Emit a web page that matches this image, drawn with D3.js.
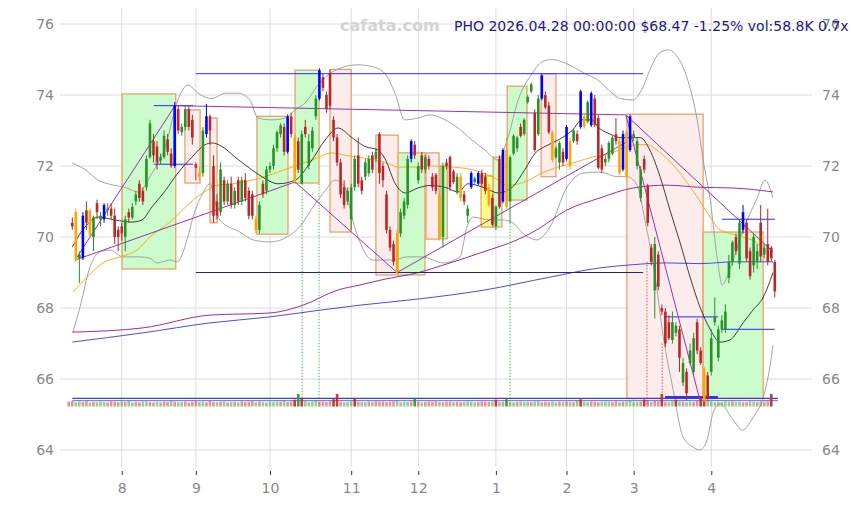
<!DOCTYPE html>
<html><head><meta charset="utf-8">
<script src="https://cdn.jsdelivr.net/npm/d3@7"></script>
<style>body{margin:0;background:#fff}svg{display:block}</style>
</head><body><svg id="c" width="853" height="505"></svg>
<script>
// ---------- DATA ----------
const title = "PHO 2026.04.28 00:00:00 $68.47 -1.25% vol:58.8K 0.7x";
const watermark = "cafata.com";
const yTicks = [64,66,68,70,72,74,76];
const monthIdx = [14,35,56,79,98,120,140,159,181];
const monthLabels = ["8","9","10","11","12","1","2","3","4"];

const opens = [70.4,70.7,69.4,69.4,70.75,70.75,70.0,70.95,70.5,70.5,
70.75,70.8,70.6,70.2,70.3,70.0,70.7,70.55,71.0,71.5,
71.3,71.4,72.25,72.7,72.55,72.15,72.25,72.75,72.35,72.0,
73.6,72.95,73.1,73.6,73.3,72.05,71.8,71.8,72.9,73.4,
72.0,71.0,70.7,71.6,71.0,71.5,70.9,71.6,71.0,71.6,
71.3,71.2,70.5,70.2,71.5,71.3,71.9,72.0,72.5,72.9,
73.1,72.4,73.4,72.8,72.7,71.5,73.1,72.0,72.5,73.4,
73.9,74.5,74.0,74.6,73.3,72.8,72.1,71.4,71.0,70.5,
71.4,72.3,71.6,71.7,71.8,72.3,72.2,72.9,72.0,71.2,
70.2,69.8,70.1,70.1,70.6,70.9,72.2,72.6,71.6,72.3,
71.9,72.2,71.7,71.75,71.2,70.0,72.1,72.25,71.85,71.25,
71.7,71.2,70.6,71.4,71.55,71.5,71.8,71.7,71.4,71.1,
70.3,72.2,71.0,72.45,71.0,72.35,72.5,73.1,72.9,73.8,
74.1,73.5,72.9,73.9,74.0,73.7,72.95,72.25,72.1,72.4,
72.2,72.7,72.7,72.9,73.1,73.4,73.25,73.15,73.9,73.35,
72.5,72.1,72.2,72.35,72.9,72.7,71.9,72.95,72.45,72.8,
72.0,71.1,72.2,71.45,69.7,68.5,69.5,68.0,67.9,67.6,
67.1,67.3,67.4,65.9,66.2,66.45,66.2,67.6,66.8,66.3,
66.1,66.2,67.6,66.6,67.4,67.4,68.85,69.3,70.0,69.25,
70.2,70.4,69.6,69.2,69.3,70.4,69.5,69.8,69.7,69.3];
const highs = [70.55,70.8,69.6,70.7,71.0,70.8,70.6,71.05,70.7,70.95,
70.95,70.95,70.8,70.3,70.4,70.6,70.8,70.95,71.3,71.6,
71.4,72.3,73.3,72.9,72.7,72.35,73.0,72.9,72.5,73.8,
73.7,73.2,73.7,73.7,73.45,72.1,72.0,73.1,73.75,73.45,
72.3,71.2,72.1,71.7,71.6,71.7,71.4,71.7,71.7,71.8,
71.4,71.3,70.6,71.0,71.6,72.0,72.1,72.6,73.0,73.2,
73.2,73.45,73.5,72.9,72.8,73.0,73.3,72.9,73.1,74.0,
74.75,74.6,74.1,74.72,73.4,72.9,72.2,71.6,71.4,71.5,
72.3,72.8,71.7,72.2,72.3,72.4,72.5,72.95,72.1,71.3,
70.3,69.9,70.2,70.8,71.1,72.3,72.75,72.7,72.1,72.4,
72.3,72.3,71.8,71.8,71.3,72.1,72.2,72.3,71.9,71.8,
71.8,71.3,70.9,71.85,71.7,71.85,71.9,71.8,71.5,71.2,
70.9,72.3,72.5,72.8,72.3,72.9,72.85,73.2,73.35,74.0,
74.35,73.6,74.0,74.6,74.1,73.8,73.0,72.55,72.7,72.5,
73.15,72.8,73.05,73.0,74.15,73.5,73.85,74.1,74.0,73.45,
72.6,72.3,72.7,72.85,73.35,72.8,73.0,73.0,73.45,73.0,
72.8,72.0,72.3,71.5,69.8,70.0,69.6,68.1,68.0,67.8,
67.9,67.6,67.5,66.6,66.3,67.0,67.3,67.7,66.9,66.35,
66.2,67.4,68.3,67.5,67.8,68.1,69.5,69.9,70.1,70.5,
70.9,70.5,69.7,70.1,69.8,70.9,69.8,70.8,69.75,69.35];
const lows = [70.2,69.3,68.7,69.35,70.2,70.0,69.6,70.5,70.3,70.4,
70.6,70.5,69.8,69.6,69.9,69.6,70.4,70.5,70.9,71.0,
70.9,71.3,72.2,72.1,71.9,72.05,72.2,72.3,71.95,71.95,
72.9,72.85,73.0,73.0,72.6,71.6,71.6,71.7,72.8,72.6,
70.4,70.5,70.6,70.9,70.9,70.8,70.8,70.9,70.9,71.0,
70.5,70.5,70.1,70.1,71.1,71.2,71.8,71.9,72.4,72.8,
72.3,72.35,72.8,71.5,71.8,71.5,72.8,71.9,72.4,73.3,
73.85,74.1,73.5,73.6,72.7,72.0,71.1,70.8,70.9,70.2,
71.3,71.4,71.2,71.6,71.7,71.8,72.1,71.5,71.4,70.1,
69.6,69.2,68.95,70.0,70.5,70.8,72.1,72.2,71.5,71.8,
71.8,71.9,71.3,71.2,69.9,69.7,71.9,71.3,71.5,71.2,
71.0,70.9,70.4,71.35,71.5,71.45,71.4,71.2,70.85,70.3,
70.2,70.8,70.95,70.8,70.4,72.3,72.4,72.8,72.85,73.75,
74.05,72.4,72.85,73.85,73.6,72.9,72.1,72.2,71.9,72.0,
72.15,71.9,72.65,72.6,73.05,73.05,73.2,73.1,73.1,71.9,
71.8,72.0,72.1,72.3,72.6,71.75,71.85,71.6,72.4,72.7,
71.9,71.0,71.8,70.3,69.2,67.7,68.5,67.8,66.9,67.1,
67.0,67.2,66.2,65.8,65.4,66.4,66.1,66.7,66.4,65.35,
65.4,66.1,67.5,66.5,67.3,67.3,68.7,69.2,69.5,69.1,
70.1,69.3,68.8,69.0,69.1,69.3,69.4,69.2,69.3,68.3];
const closes = [70.3,69.35,69.5,70.6,70.4,70.05,70.55,70.7,70.6,70.9,
70.8,70.6,70.0,70.0,70.1,70.5,70.55,70.85,71.2,71.1,
71.0,72.2,73.2,72.3,72.1,72.25,72.85,72.4,72.0,73.7,
73.0,73.1,73.6,73.1,72.8,71.95,71.7,73.0,73.4,73.0,
70.6,70.6,71.9,71.0,71.5,70.9,71.3,71.0,71.6,71.1,
70.6,70.6,70.2,70.9,71.2,71.9,72.0,72.5,72.95,73.15,
72.4,73.4,72.9,71.55,71.9,72.9,72.9,72.7,73.0,73.9,
74.7,74.2,73.6,73.7,72.8,72.1,71.2,70.9,71.3,71.4,
72.2,71.5,71.3,72.1,72.2,71.9,72.4,71.8,71.6,70.2,
69.7,69.3,69.0,70.7,71.0,72.2,72.7,72.3,72.0,71.9,
72.25,72.0,71.4,71.3,69.95,72.0,72.0,71.4,71.55,71.7,
71.1,71.0,70.8,71.8,71.65,71.8,71.5,71.3,70.9,70.35,
70.85,70.85,72.45,70.85,72.25,72.85,72.8,72.85,73.3,73.95,
74.3,72.45,73.9,74.55,73.65,72.95,72.17,72.5,72.65,72.1,
73.1,72.0,73.0,72.7,74.1,73.1,73.8,74.05,73.15,71.95,
71.9,72.2,72.65,72.8,72.7,71.8,72.9,71.7,73.4,72.9,
72.7,71.9,71.9,70.4,69.3,69.8,68.6,67.9,67.0,67.15,
67.6,67.5,66.6,66.45,65.6,66.8,67.15,66.8,66.45,65.4,
65.45,67.15,67.75,67.4,67.65,67.9,69.3,69.85,69.6,70.4,
70.7,69.4,68.9,70.0,69.6,69.45,69.7,69.3,69.4,68.47];
const volumes = [21,24,19,22,20,23,18,21,19,22,
20,18,23,21,19,22,20,24,18,21,
19,22,23,20,18,21,19,22,20,26,
21,19,20,22,18,21,23,20,22,19,
24,20,19,21,22,18,20,21,19,22,
20,21,23,19,22,20,18,21,20,22,
21,25,20,22,30,55,34,24,20,22,
26,21,22,20,23,32,55,21,19,20,
22,33,21,20,19,22,20,23,21,22,
20,21,22,24,19,21,20,22,33,21,
19,20,22,21,23,20,19,21,22,20,
21,19,20,22,21,19,20,22,21,20,
22,30,20,21,32,20,19,21,22,20,
21,20,22,23,19,21,20,22,19,21,
20,22,21,19,25,32,21,20,22,21,
19,20,22,21,20,23,19,21,22,24,
21,20,22,31,26,20,24,22,55,21,
20,23,30,22,21,19,22,20,24,38,
50,26,22,19,21,20,23,21,22,20,
21,19,20,22,21,20,22,21,23,55];
const blueBars = [3,9,29,38,61,70,96,113,115,122,133,140,144,147,156,158,190];
const orangeBars = [1,5,36,52,63,92,104,110,118,123,136,141,145,155,157,179];

// indicator lines: [bar index, price]
const maShort = [[0,69.72],[3.6,70.28],[7.3,70.56],[12.1,70.48],[16.9,70.42],[19.7,70.48],[22.6,70.85],[26.3,71.3],[29.9,71.8],[33.9,72.25],[37.6,72.6],[39.6,72.65],[42.4,72.55],[46.1,72.25],[49.8,71.97],[53.7,71.7],[58.3,71.5],[63.1,71.6],[67.9,72.17],[71.6,72.73],[75.3,73.07],[79.2,72.8],[82.9,72.55],[86.6,72.45],[88.6,72.2],[91.5,71.5],[94.3,71.24],[97.9,71.38],[101.3,71.45],[105.6,71.4],[109.3,71.27],[112.1,71.5],[116.9,71.38],[120.6,71.24],[124.6,71.4],[128.2,71.9],[131.1,72.36],[133.9,72.55],[137.6,72.73],[141.6,73.0],[144.4,73.3],[147.2,73.3],[148.9,73.1],[152.3,72.9],[155.2,72.8],[158,72.8],[160.9,72.8],[163.6,72.45],[166.5,71.7],[169.3,70.76],[172.2,69.83],[175,68.87],[177.8,68.03],[180.7,67.4],[183.5,67.04],[186.3,67.1],[190,67.58],[192.8,67.94],[195.7,68.3],[198.5,69.0]];
const maMid = [[0.2,68.45],[4.2,68.87],[8.7,69.27],[13.5,69.44],[18.3,69.63],[22,70.0],[27.7,70.42],[33.3,70.96],[38.2,71.32],[41,71.46],[45.5,71.5],[53.2,71.66],[60.3,71.9],[67.9,72.17],[73.6,72.37],[77.3,72.3],[82.9,72.22],[88.6,72.1],[92.3,71.97],[97.9,71.97],[101.3,72.0],[107.6,71.97],[113.2,71.9],[118.9,71.7],[123.4,71.46],[128.2,71.55],[133,71.8],[137.6,71.97],[142.4,72.1],[147.2,72.25],[152.9,72.37],[156,72.5],[160,72.6],[162.8,72.6],[165.6,72.45],[171.3,71.9],[177,71.13],[180.7,70.56],[183.5,70.2],[186.3,70.1],[190,70.0],[194,69.83],[196.8,69.55],[198.5,69.4]];
const bbUpper = [[0,72.08],[3.6,71.9],[7.3,71.6],[11.3,71.47],[14.9,71.4],[18.6,71.27],[22.6,71.8],[26.3,72.53],[29.9,73.86],[32.8,74.28],[35.6,74.05],[39.6,73.9],[43.3,74.05],[47,74.05],[50.3,73.86],[52.6,73.35],[56.6,73.3],[60.3,73.35],[63.1,73.58],[65.9,73.77],[69.6,74.28],[72.4,74.56],[77.3,74.8],[81,74.85],[85,74.8],[88.6,74.6],[91.4,74.05],[94.2,73.3],[97.9,73.35],[101.3,73.44],[105.6,73.3],[109.3,73.07],[113.2,72.73],[116.9,72.45],[120.6,72.17],[123.4,72.8],[126.3,73.86],[130.2,74.6],[133,74.93],[135.9,75.0],[139.6,74.9],[145.3,74.6],[148.9,74.42],[152.9,74.05],[155.2,73.9],[158.8,73.86],[161.7,74.23],[163.6,74.7],[166.5,75.2],[168.8,75.27],[171.6,75.05],[174.4,74.4],[177,73.3],[178.7,72.17],[180.7,71.04],[182.7,69.4],[184.1,68.65],[186.3,69.1],[190,70.2],[194,71.1],[196.2,71.6],[198.5,71.1]];
const bbLower = [[0.2,67.32],[2.2,68.03],[5,69.15],[7.8,69.58],[10.7,69.63],[14.4,69.44],[19.2,69.44],[22,69.4],[24,69.27],[27.7,69.35],[29.7,69.3],[32.5,69.92],[34.2,70.56],[37,71.24],[39,71.5],[41.8,70.48],[47.5,70.14],[51.2,69.92],[56,69.86],[60.8,70.0],[64.5,70.3],[67.9,70.8],[71.6,71.3],[74.4,71.6],[77.3,71.4],[79.2,70.56],[82.1,69.72],[85,69.35],[90.6,69.35],[94.9,69.44],[99.3,69.44],[102.2,69.35],[105,69.27],[109.8,69.44],[111.8,70.28],[113.5,70.56],[118.3,70.48],[122,70.48],[124.9,70.39],[127.7,70.1],[131.6,69.92],[135.3,70.28],[140.1,71.4],[144.7,71.8],[149.5,71.83],[154.3,71.7],[157.1,71.7],[160,71.46],[162.2,70.48],[165.1,68.9],[167.4,67.2],[170.2,65.7],[173,64.37],[175.9,64.08],[177.8,64.0],[179.8,64.28],[181.5,65.04],[183.5,65.3],[187.2,64.85],[189.8,64.56],[192.9,64.93],[195.8,65.5],[197.6,66.34],[198.5,66.96]];
const maLong = [[0,67.32],[20,67.44],[39,67.8],[56,67.86],[65.4,68.08],[75,68.5],[81.5,68.65],[88,68.8],[97.7,68.99],[107,69.27],[116.4,69.58],[126,69.92],[131.6,70.2],[140.1,70.76],[149.5,71.1],[158.8,71.38],[168.4,71.46],[177.8,71.4],[187.2,71.38],[198.5,71.27]];
const maLonger = [[0,67.04],[20,67.3],[39,67.58],[56,67.75],[70.2,67.94],[81.5,68.08],[97.7,68.25],[116.4,68.5],[135.3,68.87],[149.5,69.13],[158.8,69.22],[168.4,69.27],[177.8,69.25],[187.2,69.3],[198.5,69.3]];

// boxes: [startIdx, endIdx, top, bottom, kind]
const boxes = [[14.1,29.3,74.03,69.1,"up"],[31.9,36.2,73.58,71.52,"down"],[39,41,73.35,70.4,"down"],
[52.3,61.1,73.4,70.08,"up"],[63.1,69.9,74.7,71.52,"up"],[73,79,74.72,70.14,"down"],
[86,92.3,72.87,68.93,"down"],[92.3,99.9,72.37,68.93,"up"],[100.2,103.9,72.37,69.94,"down"],
[104.2,106.2,72.0,69.95,"up"],[115.8,119.2,71.72,70.28,"flat"],[119.2,121.7,72.25,70.28,"up"],
[123.2,128.8,74.25,71.04,"up"],[132.8,137,74.6,71.7,"down"],[157.1,178.7,73.46,65.45,"down"],
[178.7,195.7,70.14,65.45,"up"]];
// trend lines: [i0,p0,i1,p1]
const trendLines = [[0.8,69.35,29.1,73.7],[0.8,69.35,63.1,71.55],[63.1,71.55,92,69.0],[92,69.0,157.1,72.68],
[29.1,73.7,156.8,73.44],[156.8,73.44,177.8,65.4],[156.8,73.44,198.5,69.58]];
// level lines: [i0,i1,price,width,color]
const levels = [[35,161.7,74.6,1,"#2b2bff"],[35,161.7,69.0,1,"#22228a"],[23.1,34.2,73.7,1,"#2b2bff"],[23.1,34.2,72.05,1,"#2b2bff"],
[167.9,182.9,67.75,1,"#2b2bff"],[184,199,67.4,1,"#2b2bff"],[184,199,70.5,1,"#2b2bff"],
[0,199.9,65.456,1.2,"#3a3aff"],[0,199.9,65.39,1,"#7070c0"],[167.9,182.9,65.49,2.2,"#3030ff"]];
// signal markers: [idx, fromPrice, kind]
const markers = [[65.1,71.5,"g"],[69.9,71.5,"g"],[124,70.4,"g"],[162.8,69.3,"r"],[167.1,67.0,"r"]];

// ---------- CHART ----------
const svg = d3.select("#c");
const font = "DejaVu Sans, Verdana, sans-serif";
const x = d3.scaleLinear().domain([0,199]).range([72.3,774.8]);
const y = d3.scaleLinear().domain([64,76]).range([450,24]);
const volBase = 406.5;
const yv = d3.scaleLinear().domain([0,55]).range([volBase, volBase-12.5]);
const step = x(1)-x(0);

// grid
svg.append("g").selectAll("line").data(yTicks).join("line")
  .attr("x1",60).attr("x2",812).attr("y1",d=>y(d)).attr("y2",d=>y(d))
  .attr("stroke","#dcdcdc").attr("stroke-width",1);
svg.append("g").selectAll("line").data(monthIdx).join("line")
  .attr("x1",d=>x(d)).attr("x2",d=>x(d)).attr("y1",8).attr("y2",467)
  .attr("stroke","#dcdcdc").attr("stroke-width",1);

// boxes
const fills = {up:"#ccfccc", down:"#fdecec", flat:"#ffff88"};
svg.append("g").selectAll("rect").data(boxes).join("rect")
  .attr("x",d=>x(d[0])).attr("width",d=>x(d[1])-x(d[0]))
  .attr("y",d=>y(d[2])).attr("height",d=>y(d[3])-y(d[2]))
  .attr("fill",d=>fills[d[4]]).attr("stroke","#e8a36a").attr("stroke-width",1.3);

// indicator lines
const line = d3.line().x(d=>x(d[0])).y(d=>y(d[1])).curve(d3.curveMonotoneX);
const lines = [[bbUpper,"#9a9a9a",0.9],[bbLower,"#9a9a9a",0.9],[maLong,"#9a2f9a",1],[maLonger,"#3535f0",0.9],[maMid,"#ffa500",0.9],[maShort,"#111",0.8]];
svg.append("g").selectAll("path").data(lines).join("path")
  .attr("d",d=>line(d[0])).attr("fill","none").attr("stroke",d=>d[1]).attr("stroke-width",d=>d[2]);

// level lines
svg.append("g").selectAll("line").data(levels).join("line")
  .attr("x1",d=>x(d[0])).attr("x2",d=>x(d[1])).attr("y1",d=>y(d[2])).attr("y2",d=>y(d[2]))
  .attr("stroke",d=>d[4]).attr("stroke-width",d=>d[3]);

// trend lines
svg.append("g").selectAll("line").data(trendLines).join("line")
  .attr("x1",d=>x(d[0])).attr("y1",d=>y(d[1])).attr("x2",d=>x(d[2])).attr("y2",d=>y(d[3]))
  .attr("stroke","#9933aa").attr("stroke-width",1);

// signal markers (dotted)
svg.append("g").selectAll("line").data(markers).join("line")
  .attr("x1",d=>x(d[0])).attr("x2",d=>x(d[0])).attr("y1",d=>y(d[1])).attr("y2",volBase)
  .attr("stroke",d=>d[2]==="g"?"#3a9a3a":"#c04040").attr("stroke-width",0.8).attr("stroke-dasharray","1.5,1.5");

// volume bars (drawn one bar slot to the left)
const bars = d3.range(opens.length);
svg.append("g").selectAll("rect").data(bars).join("rect")
  .attr("x",i=>x(i)-step-1.3).attr("width",2.6)
  .attr("y",i=>yv(volumes[i])).attr("height",i=>volBase-yv(volumes[i]))
  .attr("fill",i=>closes[i]>=opens[i]?"#2f9a2f":"#c03030")
  .attr("fill-opacity",i=>volumes[i]>28?0.95:0.5);

// candles
const colorOf = i => blueBars.includes(i)?"#0000ff":orangeBars.includes(i)?"#ffa500":(closes[i]>=opens[i]?"#2a912a":"#b82828");
const cg = svg.append("g");
cg.selectAll("line").data(bars).join("line")
  .attr("x1",i=>x(i)).attr("x2",i=>x(i)).attr("y1",i=>y(highs[i])).attr("y2",i=>y(lows[i]))
  .attr("stroke",colorOf).attr("stroke-width",1);
cg.selectAll("rect").data(bars).join("rect")
  .attr("x",i=>x(i)-1.3).attr("width",2.6)
  .attr("y",i=>y(Math.max(opens[i],closes[i])))
  .attr("height",i=>Math.max(1,Math.abs(y(opens[i])-y(closes[i]))))
  .attr("fill",colorOf);

// axes
const styleAxis = g => { g.select(".domain").remove(); g.selectAll("text").attr("fill","#888").attr("font-size",14).attr("font-family",font); };
svg.append("g").attr("transform","translate(58,0)")
  .call(d3.axisLeft(y).tickValues(yTicks).tickSize(0).tickPadding(4).tickFormat(d3.format("d"))).call(styleAxis);
svg.append("g").attr("transform","translate(818,0)")
  .call(d3.axisRight(y).tickValues(yTicks).tickSize(0).tickPadding(4).tickFormat(d3.format("d"))).call(styleAxis);
svg.append("g").attr("transform","translate(0,471)")
  .call(d3.axisBottom(x).tickValues(monthIdx).tickSize(4).tickPadding(8).tickFormat((d,k)=>monthLabels[k]))
  .call(styleAxis).call(g=>g.selectAll(".tick line").attr("stroke","#333"));

// texts
svg.append("text").attr("x",340).attr("y",31).text(watermark)
  .attr("font-family",font).attr("font-weight","bold").attr("font-size",16).attr("fill","#d4d4d4");
svg.append("text").attr("x",454).attr("y",31).text(title)
  .attr("font-family",font).attr("font-size",14).attr("fill","#1a1a8c");
</script></body></html>
